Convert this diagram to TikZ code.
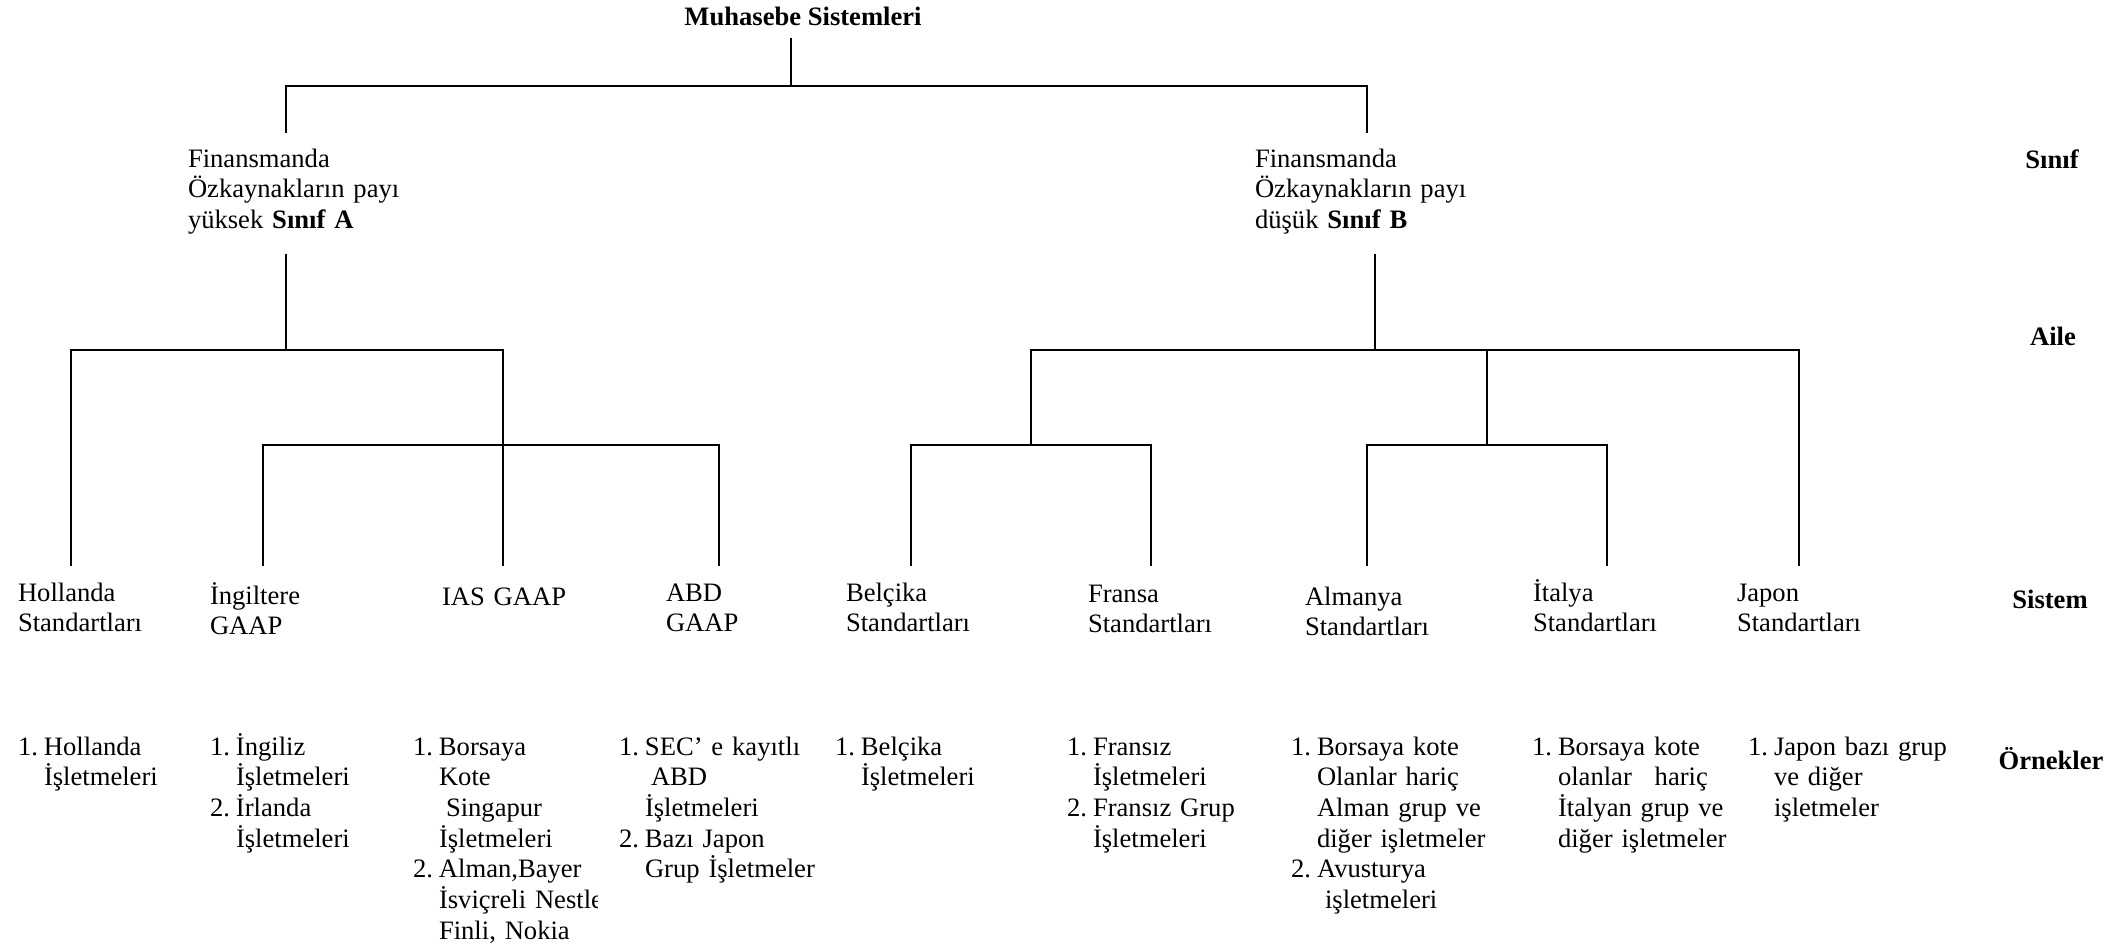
\documentclass[tikz,border=0pt]{standalone}
\usepackage{fontspec}
\setmainfont{Liberation Serif}
\newcommand{\ind}{\hspace*{26pt}}
\newcommand{\numl}[1]{\makebox[26pt][l]{#1}}
\begin{document}
\begin{tikzpicture}[x=1pt,y=-1pt,
  txt/.style={anchor=base west,inner sep=0pt,outer sep=0pt,text width=320pt,align=left,
    font=\fontsize{26.6}{30.7}\selectfont},
  lbl/.style={anchor=base,inner sep=0pt,font=\fontsize{26.6}{30.7}\selectfont\bfseries},
  conn/.style={line width=2pt},
  bar/.style={line width=2.7pt}]
\useasboundingbox (0,0) rectangle (2128,948);

% ---- texts
\node[lbl] (title) at (803,25) {Muhasebe Sistemleri};
\node[txt] (clA) at (188,167) {Finansmanda\\Özkaynakların payı\\yüksek \textbf{Sınıf A}};
\node[txt] (clB) at (1255,167) {Finansmanda\\Özkaynakların payı\\düşük \textbf{Sınıf B}};

\node[lbl] (sinif) at (2052,168) {Sınıf};
\node[lbl] (aile) at (2053,345) {Aile};
\node[lbl] (sistem) at (2050,608) {Sistem};
\node[lbl] (ornek) at (2051,769) {Örnekler};

\node[txt] (hol) at (18,601) {Hollanda\\Standartları};
\node[txt] (ing) at (210,604) {İngiltere\\GAAP};
\node[txt] (ias) at (442,605) {IAS GAAP};
\node[txt] (abd) at (666,601) {ABD\\GAAP};
\node[txt] (bel) at (846,601) {Belçika\\Standartları};
\node[txt] (fra) at (1088,602) {Fransa\\Standartları};
\node[txt] (alm) at (1305,605) {Almanya\\Standartları};
\node[txt] (ita) at (1533,601) {İtalya\\Standartları};
\node[txt] (jap) at (1737,601) {Japon\\Standartları};

\node[txt] (ex1) at (18,755) {\numl{1.}Hollanda\\\ind İşletmeleri};
\node[txt] (ex2) at (210,755) {\numl{1.}İngiliz\\\ind İşletmeleri\\\numl{2.}İrlanda\\\ind İşletmeleri};
\begin{scope}
\clip (400,700) rectangle (597,948);
\node[txt] (ex3) at (413,755) {\numl{1.}Borsaya\\\ind Kote\\\hspace*{33pt}Singapur\\\ind İşletmeleri\\\numl{2.}Alman,Bayer\\\ind İsviçreli Nestle\\\ind Finli, Nokia};
\end{scope}
\node[txt] (ex4) at (619,755) {\numl{1.}SEC’ e kayıtlı\\\hspace*{32pt}ABD\\\ind İşletmeleri\\\numl{2.}Bazı Japon\\\ind Grup İşletmeler};
\node[txt] (ex5) at (835,755) {\numl{1.}Belçika\\\ind İşletmeleri};
\node[txt] (ex6) at (1067,755) {\numl{1.}Fransız\\\ind İşletmeleri\\\numl{2.}Fransız Grup\\\ind İşletmeleri};
\node[txt] (ex7) at (1291,755) {\numl{1.}Borsaya kote\\\ind Olanlar hariç\\\ind Alman grup ve\\\ind diğer işletmeler\\\numl{2.}Avusturya\\\hspace*{34pt}işletmeleri};
\node[txt] (ex8) at (1532,755) {\numl{1.}Borsaya kote\\\ind olanlar\hspace{14pt} hariç\\\ind İtalyan grup ve\\\ind diğer işletmeler};
\node[txt] (ex9) at (1748,755) {\numl{1.}Japon bazı grup\\\ind ve diğer\\\ind işletmeler};

% ---- junction coordinates
\coordinate (t0) at (791,38);
\coordinate (t1) at (791,86);
\coordinate (aTop) at (286,133);
\coordinate (bTop) at (1367,133);
\coordinate (aBot) at (286,254);
\coordinate (aJ) at (286,350);
\coordinate (bBot) at (1375,254);
\coordinate (bJ) at (1375,350);
\coordinate (holT) at (71,566);
\coordinate (iasT) at (503,566);
\coordinate (ingT) at (263,566);
\coordinate (abdT) at (719,566);
\coordinate (belT) at (911,566);
\coordinate (fraT) at (1151,566);
\coordinate (almT) at (1367,566);
\coordinate (itaT) at (1607,566);
\coordinate (japT) at (1799,566);
\coordinate (bf) at (1031,445);
\coordinate (ai) at (1487,445);

% ---- connectors
\draw[conn] (t0) -- (t1);
\draw[bar] (aTop) -- (aTop |- t1) -- (bTop |- t1) -- (bTop);

\draw[conn] (aBot) -- (aJ);
\draw[conn] (holT) -- (holT |- aJ) -- (iasT |- aJ) -- (iasT);
\draw[conn] (ingT) -- (ingT |- bf) -- (abdT |- bf) -- (abdT);

\draw[conn] (bBot) -- (bJ);
\draw[conn] (bf) -- (bf |- bJ) -- (japT |- bJ) -- (japT);
\draw[conn] (ai) -- (ai |- bJ);
\draw[conn] (belT) -- (belT |- bf) -- (fraT |- bf) -- (fraT);
\draw[conn] (almT) -- (almT |- ai) -- (itaT |- ai) -- (itaT);
\end{tikzpicture}
\end{document}
